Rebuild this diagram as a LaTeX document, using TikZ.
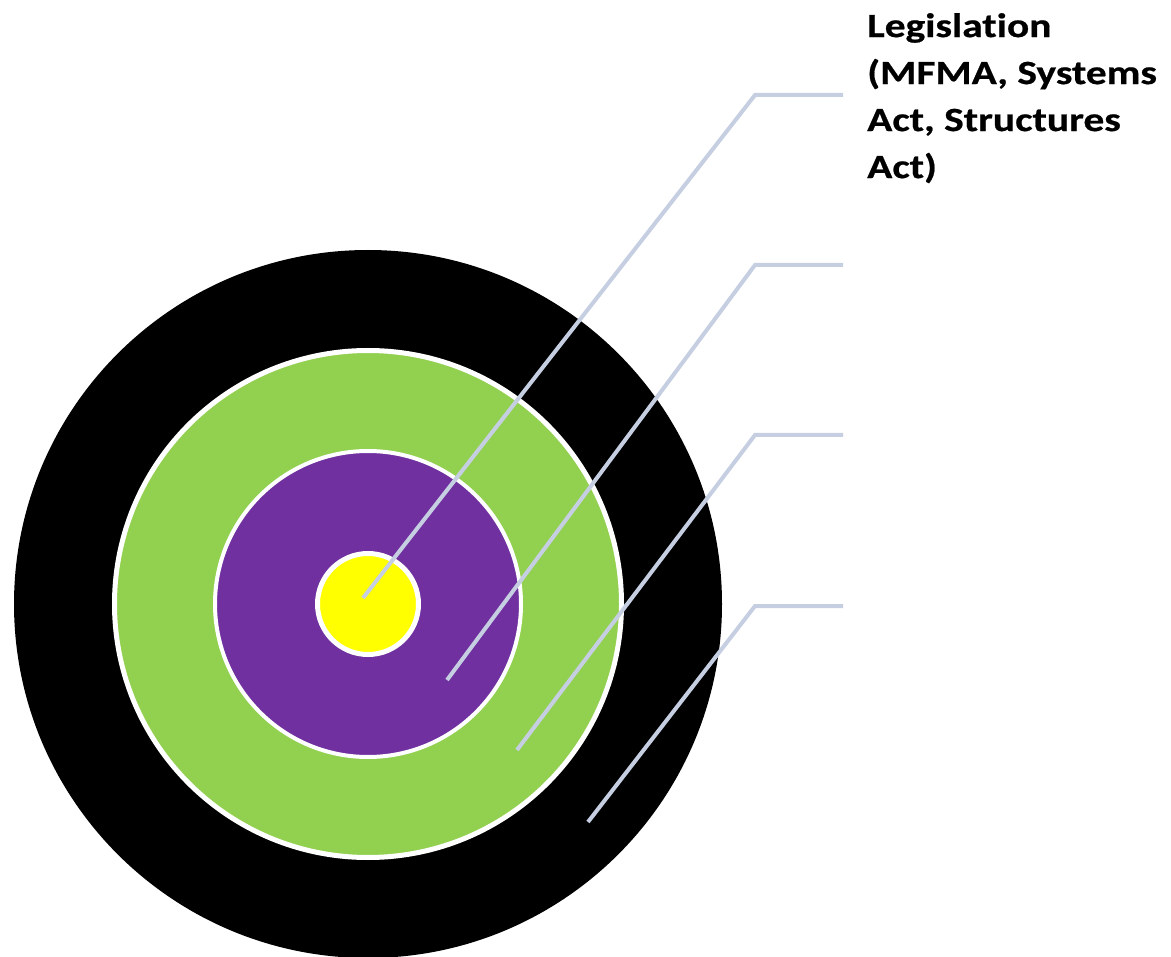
\documentclass[tikz,border=0pt]{standalone}
\usepackage{fontspec}
\setmainfont{Carlito}
\newfontfamily\labelfont{Carlito}[FakeStretch=1.22, Ligatures=NoCommon,
  BoldFeatures={FakeBold=0.6}]
\usetikzlibrary{positioning}
\definecolor{ringgreen}{HTML}{92D050}
\definecolor{ringpurple}{HTML}{7030A0}
\definecolor{ringyellow}{HTML}{FFFF00}
\definecolor{leadergray}{HTML}{C5CFE1}

\begin{document}
\begin{tikzpicture}[x=1pt, y=-1pt,
  ring/.style={circle, inner sep=0pt, draw=white},
  leader/.style={draw=leadergray, line width=4pt}]
  \useasboundingbox (0,0) rectangle (1171,957);
  \coordinate (c) at (368,604);

  % Target rings, outer to inner
  \node[ring, draw=none, fill=black, minimum size=708pt] (outer) at (c) {};
  \node[ring, fill=ringgreen, line width=5pt, minimum size=507pt] (green) at (c) {};
  \node[ring, fill=ringpurple, line width=4pt, minimum size=306pt] (purple) at (c) {};
  \node[ring, fill=ringyellow, line width=5pt, minimum size=101pt] (core) at (c) {};

  % Leader lines
  \foreach \name/\sx/\sy/\by in {
    law/363/598/95,
    second/447/680/265,
    third/517/750/435,
    fourth/588/822/606
  } {
    \coordinate (\name-start) at (\sx,\sy);
    \coordinate (\name-bend) at (755,\by);
    \coordinate (\name-end) at (843,\by);
    \draw[leader] (\name-start) -- (\name-bend) -- (\name-end);
  }

  \node[anchor=north west, inner sep=0pt, align=left,
        font=\labelfont\fontsize{34}{47}\selectfont\bfseries] (legislation) at (867,13)
    {Legislation\\(MFMA, Systems\\Act, Structures\\Act)};
\end{tikzpicture}
\end{document}
